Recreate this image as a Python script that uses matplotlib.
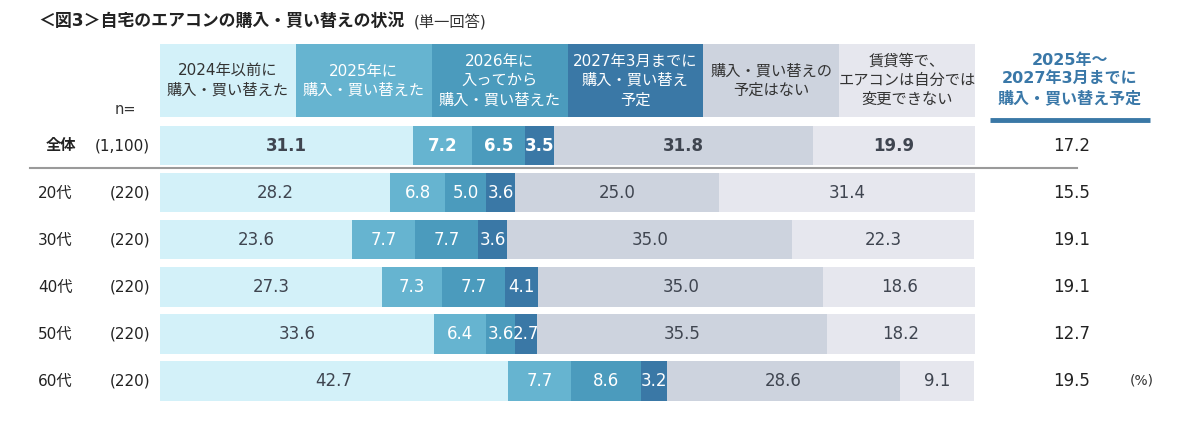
import matplotlib.pyplot as plt
import numpy as np

plt.rcParams['font.family'] = ['DejaVu Sans', 'Noto Sans CJK JP']

groups = ['全体', '20代', '30代', '40代', '50代', '60代']
sizes = ['(1,100)', '(220)', '(220)', '(220)', '(220)', '(220)']
categories = ['2024年以前に\n購入・買い替えた',
              '2025年に\n購入・買い替えた',
              '2026年に\n入ってから\n購入・買い替えた',
              '2027年3月までに\n購入・買い替え\n予定',
              '購入・買い替えの\n予定はない',
              '賃貸等で、\nエアコンは自分では\n変更できない']
values = [
    [31.1, 7.2, 6.5, 3.5, 31.8, 19.9],
    [28.2, 6.8, 5.0, 3.6, 25.0, 31.4],
    [23.6, 7.7, 7.7, 3.6, 35.0, 22.3],
    [27.3, 7.3, 7.7, 4.1, 35.0, 18.6],
    [33.6, 6.4, 3.6, 2.7, 35.5, 18.2],
    [42.7, 7.7, 8.6, 3.2, 28.6, 9.1],
]
planned = [17.2, 15.5, 19.1, 19.1, 12.7, 19.5]
planned_title = '2025年～\n2027年3月までに\n購入・買い替え予定'

colors = ['#d3f1f9', '#66b4d0', '#4b9bbd', '#3a78a6', '#cdd3de', '#e6e7ee']
text_colors = ['#3f4550', 'white', 'white', 'white', '#3f4550', '#3f4550']
head_text_colors = ['#333333', 'white', 'white', 'white', '#333333', '#333333']

W, H = 1200, 426
fig = plt.figure(figsize=(12, 4.26), dpi=100)
# bar area: x 160..975 px, rows pitch 47 px
ax = fig.add_axes([160 / W, 1 - 410 / H, 815 / W, 370 / H])
ax.set_xlim(0, 100)
ax.set_ylim(5.617, -2.255)
ax.axis('off')


def px(x):
    return (x - 160) / 8.15


data = np.array(values)
ys = np.arange(len(groups))
left = np.zeros(len(groups))
for j in range(data.shape[1]):
    ax.barh(ys, data[:, j], left=left, height=0.83, color=colors[j], edgecolor='none')
    for i in range(len(groups)):
        ax.text(left[i] + data[i, j] / 2, ys[i], f'{data[i, j]:.1f}',
                ha='center', va='center', fontsize=12, color=text_colors[j],
                fontweight='bold' if i == 0 else 'normal')
    left += data[:, j]

# header cells
hy = -1.39
cw = 100 / len(categories)
for j, cat in enumerate(categories):
    ax.barh(hy, cw, left=j * cw, height=1.55, color=colors[j], edgecolor='none')
    ax.text(j * cw + cw / 2, hy, cat, ha='center', va='center', fontsize=11,
            color=head_text_colors[j], linespacing=1.35)

# row labels
for i in range(len(groups)):
    ax.text(px(38) if i else px(46), ys[i], groups[i], ha='left', va='center',
            fontsize=11, color='#222222', fontweight='bold' if i == 0 else 'normal',
            clip_on=False)
    ax.text(px(150), ys[i], sizes[i], ha='right', va='center', fontsize=11,
            color='#222222', clip_on=False)
    ax.text(px(1072), ys[i], f'{planned[i]:.1f}', ha='center', va='center',
            fontsize=12, color='#222222', clip_on=False)

ax.text(px(125), -0.78, 'n=', ha='center', va='center', fontsize=10.5,
        color='#333333', clip_on=False)
ax.text(px(1142), 5, '(%)', ha='center', va='center', fontsize=10,
        color='#333333', clip_on=False)

# right column header
ax.text(px(1070), -1.42, planned_title, ha='center', va='center', fontsize=11.5,
        fontweight='bold', color='#3a78a8', linespacing=1.3, clip_on=False)
ax.plot([px(990), px(1150)], [-0.55, -0.55], color='#3a78a6', lw=3.5,
        solid_capstyle='butt', clip_on=False)

# separator under total row
ax.plot([px(30), px(1077)], [0.47, 0.47], color='#9a9a9a', lw=1.5, clip_on=False)

fig.text(38 / W, 1 - 21 / H, '＜図3＞自宅のエアコンの購入・買い替えの状況', ha='left',
         va='center', fontsize=12.2, fontweight='bold', color='#222222')
fig.text(414 / W, 1 - 22 / H, '(単一回答)', ha='left', va='center',
         fontsize=11, color='#333333')

fig.savefig('out.png', dpi=100)
